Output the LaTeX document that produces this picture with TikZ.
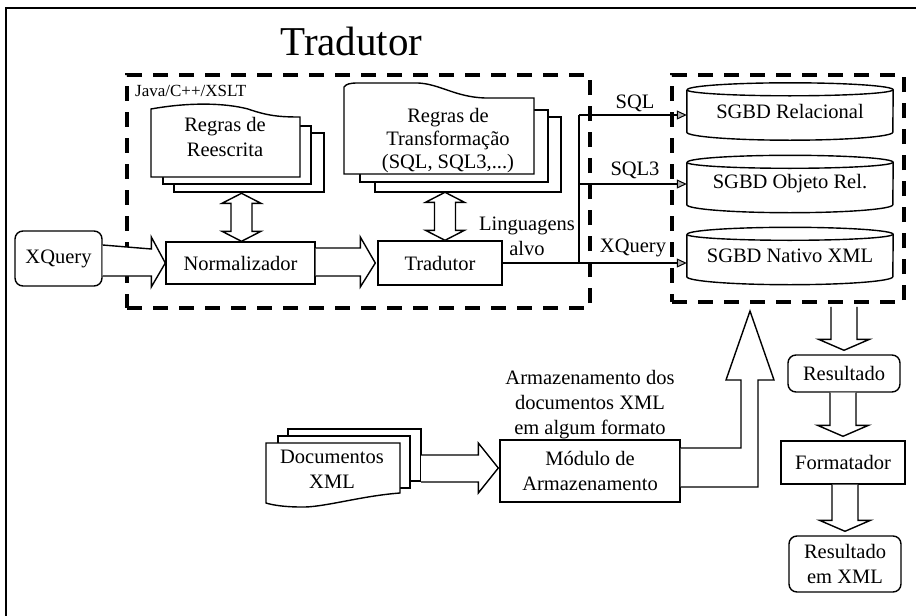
\documentclass[tikz,border=0pt]{standalone}
\usepackage{fontspec}
\setmainfont{Liberation Serif}
\usetikzlibrary{arrows.meta,calc}

\tikzset{
  base/.style={font=\fontsize{20.5}{25}\selectfont, inner sep=0pt, align=center},
  box/.style={base, draw, line width=1.4pt},
  roundbox/.style={box, rounded corners=8pt},
  label/.style={base},
  dashbox/.style={draw, line width=3.5pt, dash pattern=on 15pt off 11pt, inner sep=0pt},
  fatline/.style={draw, line width=1.4pt, fill=white, line join=miter},
  conn/.style={line width=1.2pt},
  tip/.style={conn, -{Triangle[length=10pt, width=9pt, fill=black!30, line width=1pt]}},
  page/.style={draw, line width=1.4pt, fill=white},
  cylnode/.style={base, minimum width=206pt, minimum height=57pt},
}

% two-headed vertical fat arrow standing on a node's north anchor
\newcommand{\twoway}[2]{%
  \draw[fatline]
    ([xshift=#2]#1.north)
    -- ([xshift=#2+19.5pt, yshift=10pt]#1.north)
    -- ([xshift=#2+10.5pt, yshift=10pt]#1.north)
    -- ([xshift=#2+10.5pt, yshift=38pt]#1.north)
    -- ([xshift=#2+19.5pt, yshift=38pt]#1.north)
    -- ([xshift=#2, yshift=48pt]#1.north)
    -- ([xshift=#2-19.5pt, yshift=38pt]#1.north)
    -- ([xshift=#2-10.5pt, yshift=38pt]#1.north)
    -- ([xshift=#2-10.5pt, yshift=10pt]#1.north)
    -- ([xshift=#2-19.5pt, yshift=10pt]#1.north)
    -- cycle;}

% downward fat arrow from a node (or coordinate) to a node below it
\newcommand{\fatdown}[3]{%
  \draw[fatline]
    ([xshift=-13pt, yshift=#3]#1 -| #2.north)
    -- ([xshift=-13pt, yshift=15pt]#2.north)
    -- ([xshift=-25.5pt, yshift=15pt]#2.north)
    -- ([yshift=4pt]#2.north)
    -- ([xshift=25.5pt, yshift=15pt]#2.north)
    -- ([xshift=13pt, yshift=15pt]#2.north)
    -- ([xshift=13pt, yshift=#3]#1 -| #2.north);}

\begin{document}
\begin{tikzpicture}[x=1pt, y=-1pt]
\useasboundingbox (0,0) rectangle (916,616);

% outer frame (cut off at the right and bottom)
\draw[line width=2pt] (6,616) -- (6,8) -- (916,8);

% title
\node[font=\fontsize{41}{45}\selectfont, inner sep=0pt] (title) at (351.5,41) {Tradutor};

% dashed groups
\node[dashbox, minimum width=463pt, minimum height=233pt] (tradgroup) at (358.5,191.5) {};
\node[dashbox, minimum width=232pt, minimum height=227pt] (dbgroup) at (788,188.5) {};
\node[base, font=\fontsize{17}{20}\selectfont, anchor=west] (lang) at (135,91) {Java/C++/XSLT};

% rewrite rules: stacked pages
\draw[page] (174,133) rectangle (324,192);
\draw[page] (163,126) rectangle (311,184);
\draw[page] (151,177) -- (151,109)
  .. controls (190,102) and (225,103) .. (248,109)
  .. controls (268,116) and (280,117) .. (300,117) -- (300,177) -- cycle;
\node[label] (rewrite) at (225,137) {Regras de\\Reescrita};

% transformation rules: stacked pages
\draw[page] (375,117) rectangle (561,192);
\draw[page] (360,110) rectangle (548,182);
\draw[page] (344,174) -- (344,87)
  .. controls (346,84) and (350,83) .. (358,83)
  -- (418,83) .. controls (440,84) and (455,97) .. (485,98)
  -- (534,98) -- (534,174) -- cycle;
\node[label, font=\fontsize{20.5}{23}\selectfont] (transform) at (448,141) {Regras de\\Transformação\\(SQL, SQL3,...)};

% processing chain
\node[roundbox, minimum width=87pt, minimum height=55pt] (xq) at (58.5,258.5) {XQuery};
\node[box, minimum width=149pt, minimum height=42pt] (norm) at (240.5,263) {Normalizador};
\node[box, minimum width=124pt, minimum height=44pt] (trad) at (440,263) {Tradutor};

\draw[fatline] ([yshift=13.5pt]xq.east -| xq.east) -- ([xshift=-14pt, yshift=14pt]norm.west)
  -- ([xshift=-14pt, yshift=26pt]norm.west) -- (norm.west)
  -- ([xshift=-14pt, yshift=-24pt]norm.west) -- ([xshift=-14pt, yshift=-13pt]norm.west)
  -- ([yshift=-13pt]norm.west -| xq.east);
\draw[fatline] ([yshift=15pt]norm.east) -- ([xshift=-17pt, yshift=15pt]trad.west)
  -- ([xshift=-17pt, yshift=26pt]trad.west) -- ([xshift=-2pt]trad.west)
  -- ([xshift=-17pt, yshift=-24pt]trad.west) -- ([xshift=-17pt, yshift=-13pt]trad.west)
  -- ([yshift=-13pt]norm.east);

\twoway{norm}{1pt}
\twoway{trad}{5pt}

% databases
\node[cylnode] (rel) at (790,111.5) {SGBD Relacional};
\node[cylnode] (obj) at (790,184) {SGBD Objeto Rel.};
\node[cylnode] (nat) at (790,256) {SGBD Nativo XML};
\foreach \db in {rel,obj,nat}{
  \draw[line width=1.4pt, fill=white]
    ([yshift=-7pt]\db.north west) -- ([yshift=8pt]\db.south west)
    arc[start angle=180, end angle=360, x radius=103pt, y radius=8pt]
    -- ([yshift=-7pt]\db.north east)
    arc[start angle=0, end angle=180, x radius=103pt, y radius=7pt];
  \draw[line width=1.4pt] ([yshift=-7pt]\db.north west)
    arc[start angle=180, end angle=360, x radius=103pt, y radius=6pt];
}
\node[cylnode] at (rel) {SGBD Relacional};
\node[cylnode] at (obj) {SGBD Objeto Rel.};
\node[cylnode] at (nat) {SGBD Nativo XML};

% target languages
\coordinate (split) at (579,263);
\coordinate (splittop) at (579,115);
\coordinate (splitmid) at (579,184);
\draw[conn] (trad.east) -- (split) -- (splittop);
\draw[tip] (splittop) -- (rel.west |- splittop);
\draw[tip] (splitmid) -- (obj.west |- splitmid);
\draw[tip] (split) -- (nat.west |- split);
\node[label] (lsql) at (635,103) {SQL};
\node[label] (lsql3) at (635,170) {SQL3};
\node[label] (lxq) at (633,248) {XQuery};
\node[label] (ltarget) at (527,236) {Linguagens\\alvo};

% storage
\draw[page] (288,429) rectangle (421,481);
\draw[page] (278,436) rectangle (410,488);
\draw[page] (266,443) -- (400,443) -- (400,493)
  .. controls (360,496) and (322,508) .. (300,507)
  .. controls (285,507) and (272,505) .. (266,503) -- cycle;
\node[label] (docs) at (332,469) {Documentos\\XML};
\coordinate (docsback) at (421,468);

\node[box, minimum width=180pt, minimum height=62pt] (mod) at (590,471) {Módulo de\\Armazenamento};
\node[label] (lstore) at (590,405) {Armazenamento dos\\documentos XML\\em algum formato};

\draw[fatline] ([yshift=13pt]docsback) -- ([xshift=-21pt, yshift=16pt]mod.west)
  -- ([xshift=-21pt, yshift=28pt]mod.west) -- ([xshift=-1pt, yshift=3pt]mod.west)
  -- ([xshift=-21pt, yshift=-22pt]mod.west) -- ([xshift=-21pt, yshift=-11pt]mod.west)
  -- ([yshift=-14pt]docsback);

\draw[fatline] ([yshift=23pt]mod.east) -- (741,448) -- (741,380) -- (726,380)
  -- (750,311) -- (774,380) -- (758,380) -- (758,487) -- ([yshift=-16pt]mod.east);

% results
\node[roundbox, minimum width=112pt, minimum height=37pt] (res) at (844,373.5) {Resultado};
\node[box, minimum width=124pt, minimum height=43pt] (fmt) at (843,462.5) {Formatador};
\node[roundbox, minimum width=112pt, minimum height=56pt] (resxml) at (845,564) {Resultado\\em XML};

\fatdown{dbgroup.south}{res}{-3pt}
\fatdown{res.south}{fmt}{0pt}
\fatdown{fmt.south}{resxml}{0pt}

\end{tikzpicture}
\end{document}
